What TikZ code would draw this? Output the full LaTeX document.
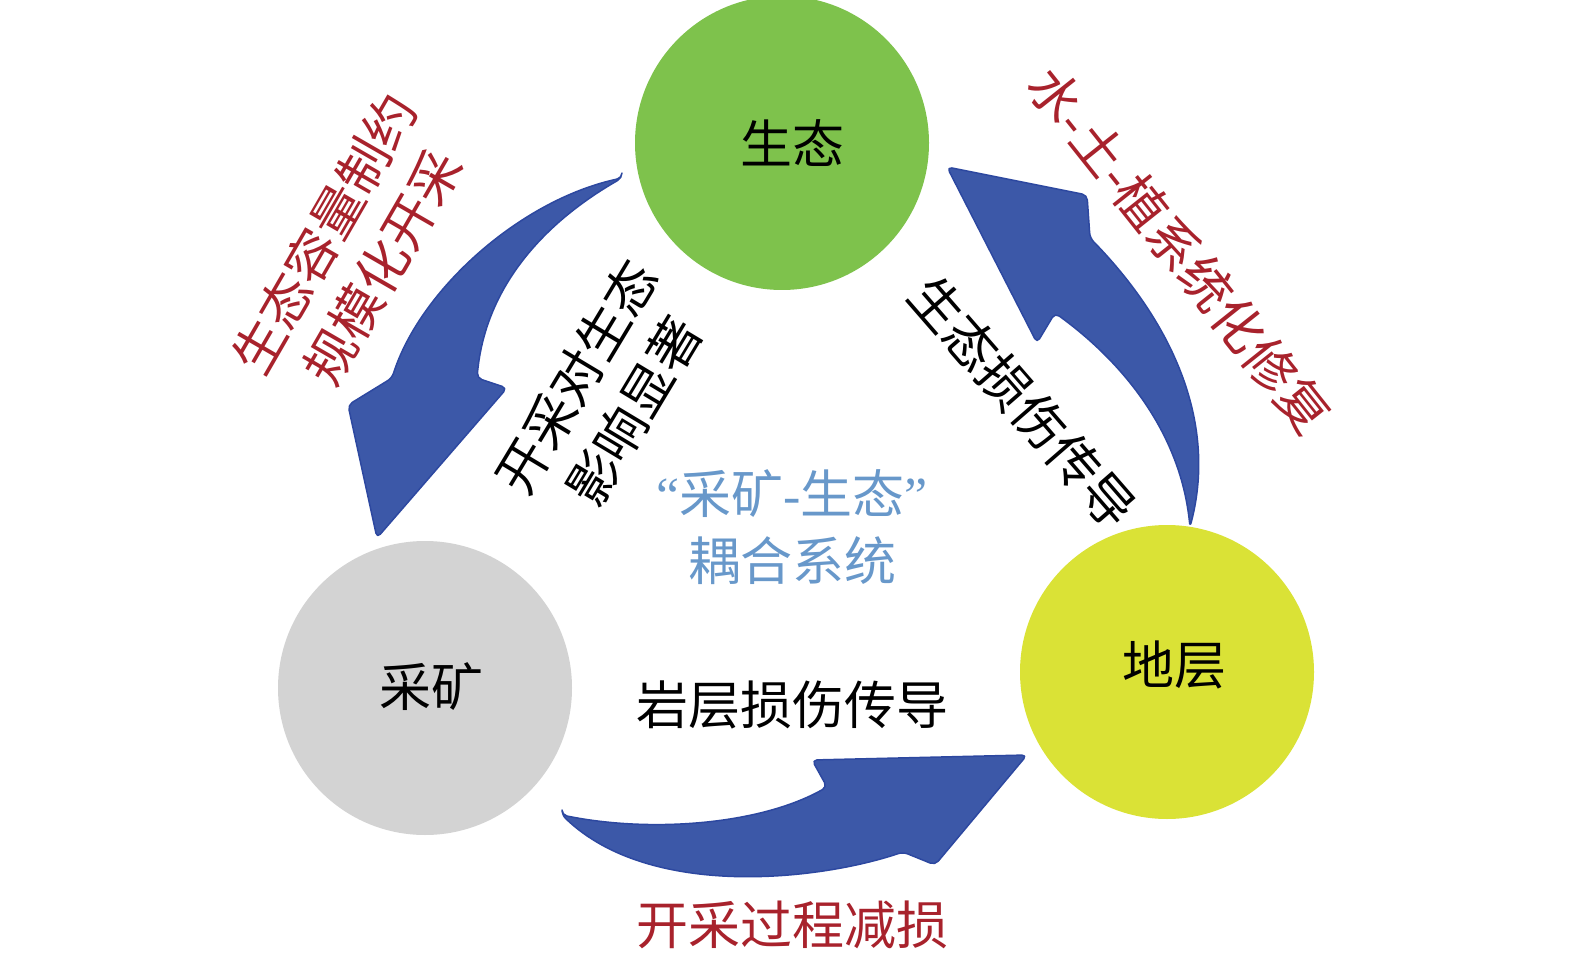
\documentclass[tikz,border=0pt]{standalone}
\usepackage{fontspec}
\newfontfamily\cjk{Noto Sans CJK SC}
\newfontfamily\lat{Liberation Serif}
\definecolor{ecogreen}{RGB}{126,194,76}
\definecolor{minegray}{RGB}{211,211,211}
\definecolor{strataylw}{RGB}{218,226,54}
\definecolor{arrowblue}{RGB}{60,88,168}
\definecolor{arrowedge}{RGB}{45,72,160}
\definecolor{labelred}{RGB}{168,34,44}
\definecolor{labelblue}{RGB}{104,152,202}
\begin{document}
\begin{tikzpicture}
  [x=1pt,y=-1pt,
   disc/.style={circle,minimum size=294pt,inner sep=0pt},
   big/.style={font=\cjk\fontsize{52}{67}\selectfont,align=center,inner sep=0pt},
   red label/.style={big,text=labelred},
   blue label/.style={big,text=labelblue},
   block arrow/.style={fill=arrowblue,draw=arrowedge,line width=1.5pt,line join=round,rounded corners=5pt}]
  \useasboundingbox (0,0) rectangle (1575,957);
  % the three subsystems
  \node[disc,fill=ecogreen] (eco) at (782,143) {};
  \node[disc,fill=minegray] (mine) at (425,688) {};
  \node[disc,fill=strataylw] (strata) at (1167,672) {};
  \node[big] (eco text) at (792,143) {生态};
  \node[big] (mine text) at (431,687) {采矿};
  \node[big] (strata text) at (1174,665) {地层};
  % block arrows
  \draw[block arrow] (622,178) .. controls (520,200) and (420,290) .. (392,378)
    -- (348,405) -- (377,538) -- (507,388) -- (477,378)
    .. controls (485,290) and (540,225) .. (622,178) -- cycle;
  \draw[block arrow] (1190,527) .. controls (1218,420) and (1170,320) .. (1090,238)
    -- (1087,195) -- (947,167) -- (1037,343) -- (1055,313)
    .. controls (1120,360) and (1180,430) .. (1190,527) -- cycle;
  \draw[block arrow] (562,815) .. controls (650,833) and (760,825) .. (827,787)
    -- (812,760) -- (1027,755) -- (935,865) -- (903,852)
    .. controls (820,880) and (650,900) .. (562,815) -- cycle;
  % labels
  \node[red label,rotate=60] (capacity) at (353,250) {生态容量制约\\规模化开采};
  \node[big,rotate=59] (impact) at (605,394) {开采对生态\\影响显著};
  \node[big,rotate=-49] (eco damage) at (1023,402) {生态损伤传导};
  \node[red label,rotate=-51.5] (repair) at (1180,250) {水{\lat-}土{\lat-}植系统化修复};
  \node[big] (rock damage) at (792,705) {岩层损伤传导};
  \node[red label] (reduce) at (792,925) {开采过程减损};
  \node[blue label] (coupling) at (792,527) {{\lat“}采矿{\lat-}生态{\lat”}\\耦合系统};
\end{tikzpicture}
\end{document}
